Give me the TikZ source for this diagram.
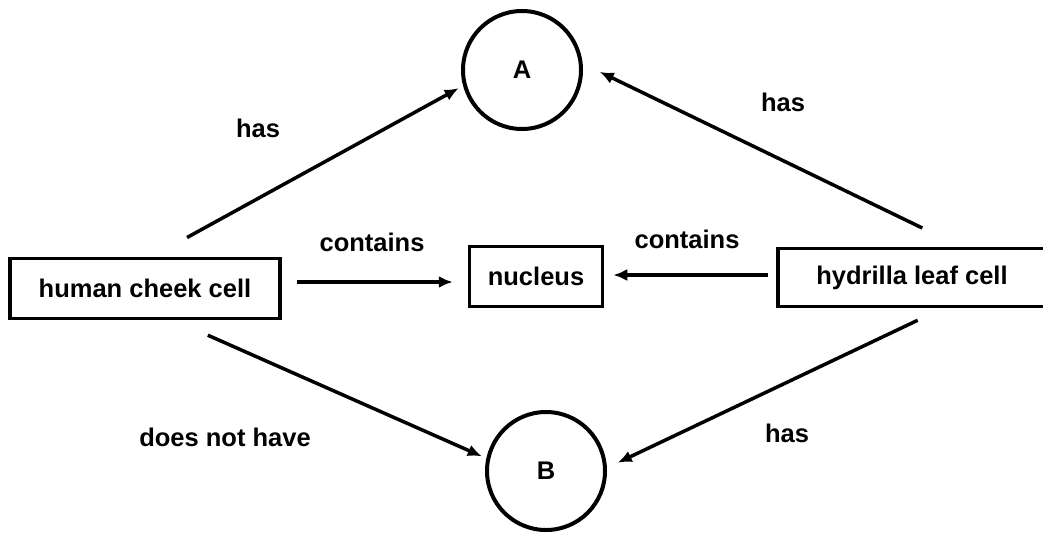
\documentclass[tikz,border=0pt]{standalone}
\usepackage{fontspec}
\setmainfont{Liberation Sans}
\usetikzlibrary{arrows.meta}
\tikzset{
  lbl/.style={font=\fontsize{25.5}{29}\selectfont\bfseries, inner sep=0pt},
  boxnode/.style={draw, line width=3.5pt, inner sep=0pt, font=\fontsize{25.5}{29}\selectfont\bfseries},
  circnode/.style={draw, circle, line width=4pt, inner sep=0pt, minimum size=118pt, font=\fontsize{25.5}{29}\selectfont\bfseries},
  arr/.style={line width=3.5pt, -{Latex[length=14pt,width=12pt]}}
}
\begin{document}
\begin{tikzpicture}[x=1pt,y=-1pt]
\clip (0,0) rectangle (1043,533);
\fill[white] (0,0) rectangle (1043,533);
% nodes
\node[circnode] (A) at (522,70) {A};
\node[circnode] (B) at (546,471) {B};
\node[boxnode, minimum width=270pt, minimum height=60pt] (hc) at (145,288.5) {human cheek cell};
\node[boxnode, minimum width=133pt, minimum height=60pt] (nuc) at (536,276.5) {nucleus};
\node[boxnode, minimum width=282pt, minimum height=58pt] (hyd) at (919,277.5) {\hspace*{-14pt}hydrilla leaf cell};
% connectors
\draw[arr, shorten <=40pt, shorten >=5pt] ([xshift=7pt]hc.north) -- (A.195);
\draw[arr, shorten <=43pt, shorten >=19pt] ([xshift=42pt]hyd.north) -- (A.6);
\draw[arr, shorten <=15pt, shorten >=15pt] ([yshift=6.5pt]hc.east) -- ([yshift=6.5pt]hc.east -| nuc.west);
\draw[arr, shorten <=8pt, shorten >=9pt] ([yshift=2.5pt]hyd.west) -- ([yshift=2.5pt]hyd.west -| nuc.east);
\draw[arr, shorten <=37pt, shorten >=5pt] ([xshift=29pt]hc.south) -- (B.168);
\draw[arr, shorten <=28pt, shorten >=12pt] ([xshift=24pt]hyd.south) -- (B.3);
% labels
\node[lbl] (l1) at (258,128) {has};
\node[lbl] (l2) at (783,102) {has};
\node[lbl] (l3) at (372,242) {contains};
\node[lbl] (l4) at (687,239) {contains};
\node[lbl] (l5) at (225,437) {does not have};
\node[lbl] (l6) at (787,433) {has};
\end{tikzpicture}
\end{document}
